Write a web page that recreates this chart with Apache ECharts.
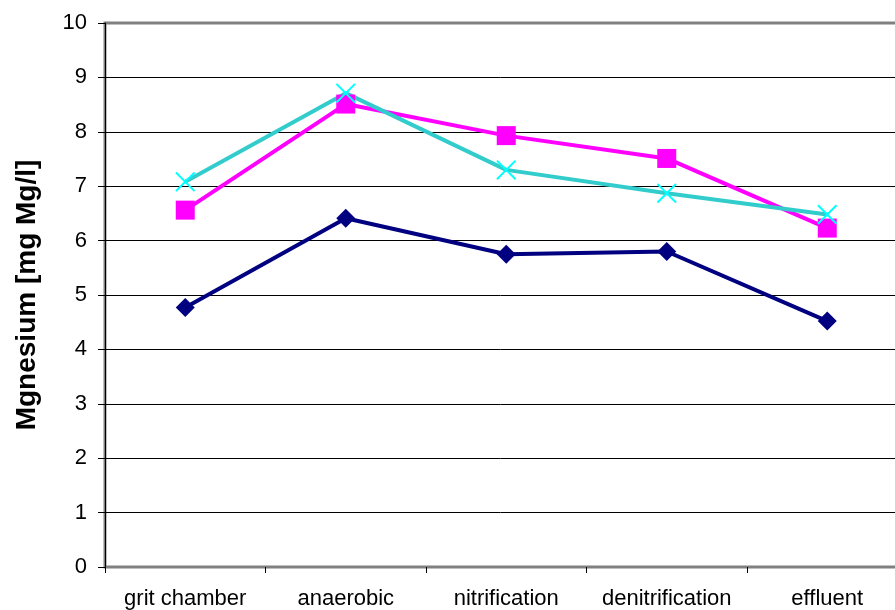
<!DOCTYPE html>
<html>
<head>
<meta charset="utf-8">
<script src="https://cdn.jsdelivr.net/npm/echarts@6/dist/echarts.min.js"></script>
<style>
  html, body { margin: 0; padding: 0; background: #fff; }
  #chart { width: 895px; height: 610px; }
</style>
</head>
<body>
<div id="chart"></div>
<script>
// Treatment stages along the x axis
var stages = ['grit chamber', 'anaerobic', 'nitrification', 'denitrification', 'effluent'];

// Magnesium concentration per stage [mg Mg/l]
var seriesNavy = [4.77, 6.41, 5.75, 5.80, 4.52];
var seriesMagenta = [6.56, 8.51, 7.93, 7.51, 6.23];
var seriesCyan = [7.08, 8.71, 7.30, 6.87, 6.48];

// Y axis range and step
var yMin = 0, yMax = 10, yStep = 1;

// Thin cross marker
var crossPath = 'path://M0,1.4 L1.4,0 L10,8.6 L18.6,0 L20,1.4 L11.4,10 L20,18.6 L18.6,20 L10,11.4 L1.4,20 L0,18.6 L8.6,10 Z';

var font = '"Liberation Sans", Arial, sans-serif';

var chart = echarts.init(document.getElementById('chart'), null, { renderer: 'canvas' });

var splitColors = [];
for (var i = 0; i <= (yMax - yMin) / yStep; i++) {
  splitColors.push(i === 0 || i === (yMax - yMin) / yStep ? '#808080' : '#000000');
}

chart.setOption({
  animation: false,
  backgroundColor: '#ffffff',
  grid: {
    left: 105, top: 23, width: 802.5, height: 544,
    outerBoundsMode: 'none',
    containLabel: false,
    show: true, borderColor: '#808080', borderWidth: 3, backgroundColor: '#ffffff'
  },
  xAxis: {
    type: 'category',
    data: stages,
    boundaryGap: true,
    axisLine: { show: true, lineStyle: { color: '#808080', width: 1 } },
    axisTick: { show: true, interval: 0, length: 6, lineStyle: { color: '#000', width: 1 } },
    axisLabel: { interval: 0, hideOverlap: false, color: '#000', fontFamily: font, fontSize: 22, margin: 21 },
    splitLine: { show: false }
  },
  yAxis: {
    type: 'value',
    min: yMin, max: yMax, interval: yStep,
    name: 'Mgnesium [mg Mg/l]',
    nameLocation: 'middle',
    nameGap: 64,
    nameTextStyle: { color: '#000', fontFamily: font, fontSize: 28, fontWeight: 'bold' },
    axisLine: { show: true, lineStyle: { color: '#000', width: 1 } },
    axisTick: { show: true, length: 7, lineStyle: { color: '#000', width: 1 } },
    axisLabel: { color: '#000', fontFamily: font, fontSize: 22, margin: 18 },
    splitLine: { show: true, lineStyle: { color: splitColors, width: 1 } }
  },
  series: [
    {
      type: 'line', data: seriesNavy,
      symbol: 'diamond', symbolSize: 19,
      lineStyle: { color: '#000080', width: 4 },
      itemStyle: { color: '#000080' }
    },
    {
      type: 'line', data: seriesMagenta,
      symbol: 'rect', symbolSize: 19,
      lineStyle: { color: '#FF00FF', width: 4 },
      itemStyle: { color: '#FF00FF' }
    },
    {
      type: 'line', data: seriesCyan,
      symbol: crossPath, symbolSize: 20, symbolKeepAspect: true,
      lineStyle: { color: '#33CCCC', width: 4 },
      itemStyle: { color: '#00FFFF' }
    }
  ]
});
</script>
</body>
</html>
